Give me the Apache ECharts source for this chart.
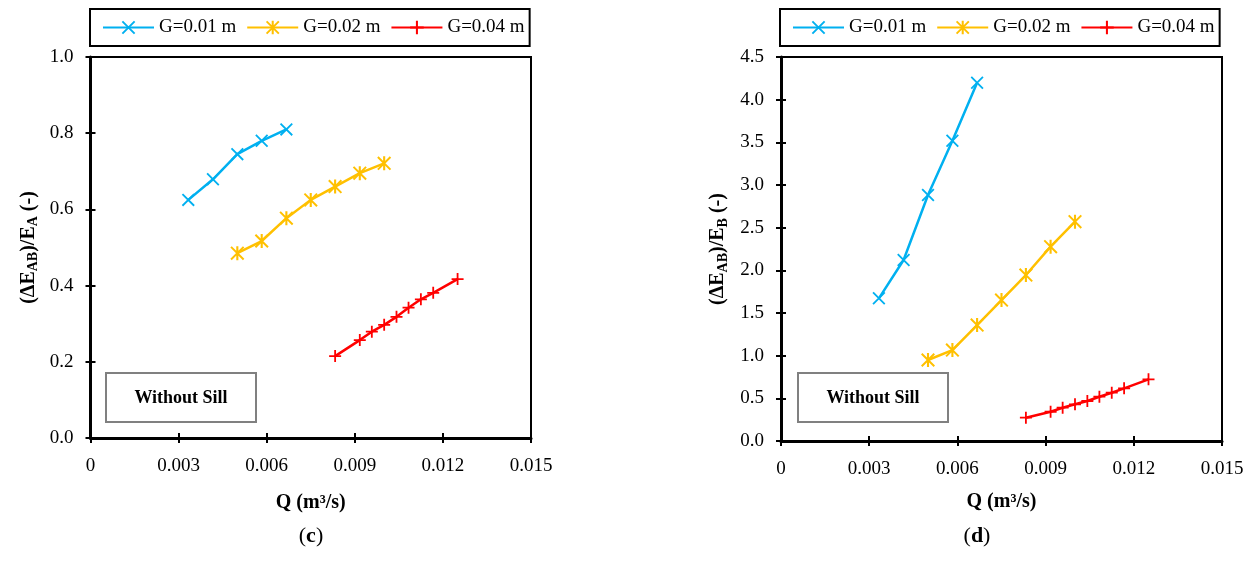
<!DOCTYPE html>
<html>
<head>
<meta charset="utf-8">
<script src="https://cdn.jsdelivr.net/npm/echarts@6/dist/echarts.min.js"></script>
<style>
  html, body { margin: 0; padding: 0; background: #fff; }
  #chart { width: 1255px; height: 579px; }
</style>
</head>
<body>
<div id="chart"></div>
<script>
// Discharge Q (m^3/s) for each gate opening
const qG001 = [0.00333, 0.00417, 0.005, 0.00583, 0.00667];
const qG002 = [0.005, 0.00583, 0.00667, 0.0075, 0.00833, 0.00917, 0.01];
const qG004 = [0.00833, 0.00917, 0.00958, 0.01, 0.01042, 0.01083, 0.01125, 0.01167, 0.0125];

// (c) relative energy loss (ΔE_AB)/E_A
const lossA_G001 = [0.625, 0.679, 0.745, 0.780, 0.810];
const lossA_G002 = [0.485, 0.517, 0.577, 0.625, 0.660, 0.695, 0.721];
const lossA_G004 = [0.215, 0.257, 0.279, 0.297, 0.318, 0.342, 0.364, 0.381, 0.417];

// (d) relative energy loss (ΔE_AB)/E_B
const lossB_G001 = [1.672, 2.121, 2.883, 3.519, 4.199];
const lossB_G002 = [0.949, 1.066, 1.359, 1.652, 1.945, 2.277, 2.570];
const lossB_G004 = [0.273, 0.343, 0.390, 0.430, 0.469, 0.519, 0.566, 0.617, 0.723];

const seriesNames = ['G=0.01 m', 'G=0.02 m', 'G=0.04 m'];
const xTicks = { min: 0, max: 0.015, interval: 0.003 };
const yTicksC = { min: 0, max: 1.0, interval: 0.2 };
const yTicksD = { min: 0, max: 4.5, interval: 0.5 };

const FONT = "'Liberation Serif', 'Times New Roman', serif";
const colors = ['#00B0F0', '#FFC000', '#FF0000'];

// marker shapes: cross (x), asterisk (x with a vertical bar), plus (+)
const SYM_X = 'path://M0,2 L2,0 L20,18 L18,20 Z M18,0 L20,2 L2,20 L0,18 Z';
const SYM_STAR = 'path://M0,2 L2,0 L20,18 L18,20 Z M18,0 L20,2 L2,20 L0,18 Z M8.5,0 L11.5,0 L11.5,20 L8.5,20 Z';
const SYM_PLUS = 'path://M8.5,0 L11.5,0 L11.5,20 L8.5,20 Z M20,8.5 L20,11.5 L0,11.5 L0,8.5 Z';
const symbols = [SYM_X, SYM_STAR, SYM_PLUS];
const symbolSizes = [13, 14, 12];

const pairs = (xs, ys) => xs.map((x, i) => [x, ys[i]]);

function xAxes(gridIndex, gap) {
  const main = {
    type: 'value', gridIndex, ...xTicks,
    name: 'Q (m³/s)', nameLocation: 'middle', nameGap: gap,
    nameTextStyle: { fontFamily: FONT, fontSize: 20, fontWeight: 'bold', color: '#000' },
    axisLine: { show: true, onZero: false, lineStyle: { color: '#000', width: 3 } },
    axisTick: { show: true, inside: false, length: 5, lineStyle: { color: '#000', width: 2 } },
    axisLabel: {
      fontFamily: FONT, fontSize: 19, color: '#000', margin: 19,
      formatter: v => (v === 0 ? '0' : v.toFixed(3))
    },
    splitLine: { show: false }
  };
  const inner = {
    type: 'value', gridIndex, ...xTicks, position: 'bottom',
    axisLine: { show: false },
    axisTick: { show: true, inside: true, length: 5, lineStyle: { color: '#000', width: 2 } },
    axisLabel: { show: false }, splitLine: { show: false }
  };
  return [main, inner];
}

function yAxes(gridIndex, ticks, richName, gap) {
  const main = {
    type: 'value', gridIndex, ...ticks,
    name: richName, nameLocation: 'middle', nameGap: gap, nameRotate: 90,
    nameTextStyle: {
      fontFamily: FONT, fontSize: 20, fontWeight: 'bold', color: '#000',
      rich: {
        m: { fontFamily: FONT, fontSize: 20, fontWeight: 'bold', color: '#000', lineHeight: 24, verticalAlign: 'middle' },
        s: { fontFamily: FONT, fontSize: 14, fontWeight: 'bold', color: '#000', lineHeight: 14, verticalAlign: 'bottom' }
      }
    },
    axisLine: { show: true, onZero: false, lineStyle: { color: '#000', width: 3 } },
    axisTick: { show: true, inside: false, length: 5, lineStyle: { color: '#000', width: 2 } },
    axisLabel: {
      fontFamily: FONT, fontSize: 19, color: '#000', margin: 17,
      formatter: v => v.toFixed(1)
    },
    splitLine: { show: false }
  };
  const inner = {
    type: 'value', gridIndex, ...ticks, position: 'left',
    axisLine: { show: false },
    axisTick: { show: true, inside: true, length: 5, lineStyle: { color: '#000', width: 2 } },
    axisLabel: { show: false }, splitLine: { show: false }
  };
  return [main, inner];
}

function lineSeries(k, axisIndex, data) {
  return {
    type: 'line', name: seriesNames[k],
    xAxisIndex: axisIndex, yAxisIndex: axisIndex,
    data, symbol: symbols[k], symbolSize: symbolSizes[k],
    showSymbol: true,
    lineStyle: { color: colors[k], width: 2.5 },
    itemStyle: { color: colors[k] },
    emphasis: { disabled: true }
  };
}

function legendAt(left) {
  return {
    data: seriesNames, left, top: 9, orient: 'horizontal',
    padding: [9, 5, 9, 12], itemGap: 10, itemWidth: 51, itemHeight: 17,
    borderColor: '#000', borderWidth: 2, backgroundColor: '#fff',
    textStyle: { fontFamily: FONT, fontSize: 19, color: '#000' },
    selectedMode: false
  };
}

function noteBox(x, y) {
  return {
    type: 'group', left: x, top: y,
    children: [
      { type: 'rect', shape: { x: 0, y: 0, width: 150, height: 49 },
        style: { fill: '#fff', stroke: '#808080', lineWidth: 2 } },
      { type: 'text', x: 75, y: 25,
        style: { text: 'Without Sill', fill: '#000', font: 'bold 18px ' + FONT,
                 textAlign: 'center', textVerticalAlign: 'middle' } }
    ]
  };
}

function panelLabel(x, letter) {
  return {
    type: 'text', x, y: 536,
    style: {
      text: '{p|(}{b|' + letter + '}{p|)}',
      textAlign: 'center', textVerticalAlign: 'middle',
      rich: {
        p: { fontFamily: FONT, fontSize: 22, color: '#000' },
        b: { fontFamily: FONT, fontSize: 22, fontWeight: 'bold', color: '#000' }
      }
    }
  };
}

const chart = echarts.init(document.getElementById('chart'), null, { renderer: 'canvas' });

chart.setOption({
  animation: false,
  backgroundColor: '#fff',
  legend: [legendAt(90), legendAt(780)],
  grid: [
    { left: 90.5, top: 57, width: 440.5, height: 381, show: true, borderColor: '#000', borderWidth: 2, backgroundColor: 'transparent', containLabel: false },
    { left: 781, top: 57, width: 441, height: 384, show: true, borderColor: '#000', borderWidth: 2, backgroundColor: 'transparent', containLabel: false }
  ],
  xAxis: [...xAxes(0, 55), ...xAxes(1, 51)],
  yAxis: [
    ...yAxes(0, yTicksC, '{m|(ΔE}{s|AB}{m|)/E}{s|A}{m| (-)}', 50),
    ...yAxes(1, yTicksD, '{m|(ΔE}{s|AB}{m|)/E}{s|B}{m| (-)}', 51)
  ],
  series: [
    lineSeries(0, 0, pairs(qG001, lossA_G001)),
    lineSeries(1, 0, pairs(qG002, lossA_G002)),
    lineSeries(2, 0, pairs(qG004, lossA_G004)),
    lineSeries(0, 2, pairs(qG001, lossB_G001)),
    lineSeries(1, 2, pairs(qG002, lossB_G002)),
    lineSeries(2, 2, pairs(qG004, lossB_G004))
  ],
  graphic: [
    noteBox(105, 372),
    noteBox(797, 372),
    panelLabel(311, 'c'),
    panelLabel(977, 'd')
  ]
});
</script>
</body>
</html>
